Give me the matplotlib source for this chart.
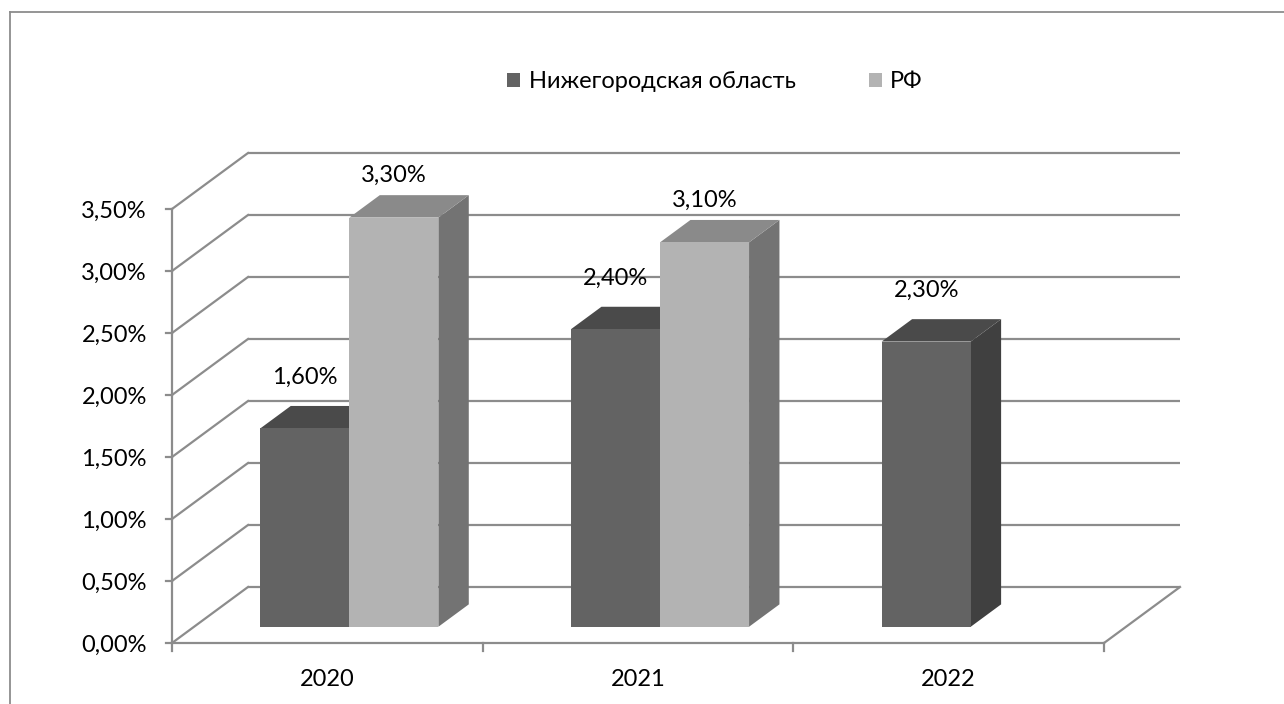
import matplotlib
matplotlib.use('Agg')
import matplotlib.pyplot as plt
from matplotlib.patches import Polygon, Patch
from matplotlib.lines import Line2D

# ---------------- data ----------------
years = ['2020', '2021', '2022']
series_names = ['Нижегородская область', 'РФ']
nizh_values = [1.6, 2.4, 2.3]
rf_values = [3.3, 3.1, None]
y_ticks = [0.0, 0.5, 1.0, 1.5, 2.0, 2.5, 3.0, 3.5]
y_tick_labels = ['0,00%', '0,50%', '1,00%', '1,50%', '2,00%', '2,50%', '3,00%', '3,50%']

# ---------------- style ----------------
plt.rcParams['font.family'] = ['Lato', 'Open Sans', 'DejaVu Sans']
FS = 17
GRID = '#8c8c8c'
NIZH = dict(front='#636363', top='#4a4a4a', side='#404040')
RF = dict(front='#b3b3b3', top='#8a8a8a', side='#737373')

W, H = 1284, 704
fig = plt.figure(figsize=(W / 100, H / 100), dpi=100)
ax = fig.add_axes([0, 0, 1, 1])
ax.axis('off')

X0PX, CATPX, Y0PX, PCTPX = 172, 310.67, 643, 124.0
ax.set_xlim(-0.5 - X0PX / CATPX, -0.5 + (W - X0PX) / CATPX)
ax.set_ylim(-(H - Y0PX) / PCTPX, Y0PX / PCTPX)

DX = 76 / CATPX       # wall depth in x units
DY = 56 / PCTPX       # wall depth in value units
LW = 1.6
ncat = len(years)
left, right = -0.5, ncat - 0.5

# back wall gridlines + left wall diagonals
for v in y_ticks:
    ax.plot([left + DX, right + DX], [v + DY, v + DY], color=GRID, lw=LW, zorder=1,
            solid_capstyle='butt')
    ax.plot([left, left + DX], [v, v + DY], color=GRID, lw=LW, zorder=1)
# floor front edge and right diagonal
ax.plot([left, right], [0, 0], color=GRID, lw=LW, zorder=1)
ax.plot([right, right + DX], [0, DY], color=GRID, lw=LW, zorder=1)
# left axis line
ax.plot([left, left], [0, y_ticks[-1]], color=GRID, lw=LW, zorder=1)
# tick marks
for v, lab in zip(y_ticks, y_tick_labels):
    ax.plot([left - 6 / CATPX, left], [v, v], color=GRID, lw=LW, zorder=1)
    ax.text(left - 25 / CATPX, v - 2 / PCTPX, lab, ha='right', va='center', fontsize=FS)
for i in range(ncat + 1):
    ax.plot([left + i, left + i], [0, -8 / PCTPX], color=GRID, lw=LW, zorder=1)
for i, yr in enumerate(years):
    ax.text(i, -37 / PCTPX, yr, ha='center', va='center', fontsize=FS)

# bars
BW = 0.2865
T0 = 0.29
BD = 0.40
ox, oy = T0 * DX, T0 * DY
ddx, ddy = BD * DX, BD * DY
z = 3


def draw_bar(xl, v, col, label_off):
    global z
    x1, x2 = xl + ox, xl + BW + ox
    y1, y2 = oy, v + oy
    ax.add_patch(Polygon([(x2, y1), (x2 + ddx, y1 + ddy), (x2 + ddx, y2 + ddy), (x2, y2)],
                         closed=True, facecolor=col['side'], edgecolor='none', zorder=z))
    ax.add_patch(Polygon([(x1, y2), (x2, y2), (x2 + ddx, y2 + ddy), (x1 + ddx, y2 + ddy)],
                         closed=True, facecolor=col['top'], edgecolor='none', zorder=z))
    ax.add_patch(Polygon([(x1, y1), (x2, y1), (x2, y2), (x1, y2)],
                         closed=True, facecolor=col['front'], edgecolor='none', zorder=z))
    z += 1
    ax.text((x1 + x2) / 2, v + label_off, f'{v:.2f}%'.replace('.', ','),
            ha='center', va='center', fontsize=FS, zorder=20)


for i in range(ncat):
    if nizh_values[i] is not None:
        draw_bar(i - BW, nizh_values[i], NIZH, 0.54)
    if rf_values[i] is not None:
        draw_bar(i, rf_values[i], RF, 0.47)

# legend
handles = [Patch(facecolor=NIZH['front'], edgecolor='none', label=series_names[0]),
           Patch(facecolor=RF['front'], edgecolor='none', label=series_names[1])]
fig.legend(handles=handles, loc='center', bbox_to_anchor=(715 / W, 1 - 82 / H), ncol=2,
           frameon=False, fontsize=FS, handlelength=0.55, handleheight=0.55,
           handletextpad=0.35, columnspacing=3.1)

# outer chart border (top and left)
fig.add_artist(Line2D([9.5 / W, 9.5 / W], [0, 1 - 11.5 / H], color=GRID, lw=1.3,
                      transform=fig.transFigure))
fig.add_artist(Line2D([9.5 / W, 1], [1 - 11.5 / H, 1 - 11.5 / H], color=GRID, lw=1.3,
                      transform=fig.transFigure))

fig.savefig('out.png', dpi=100, facecolor='white')
